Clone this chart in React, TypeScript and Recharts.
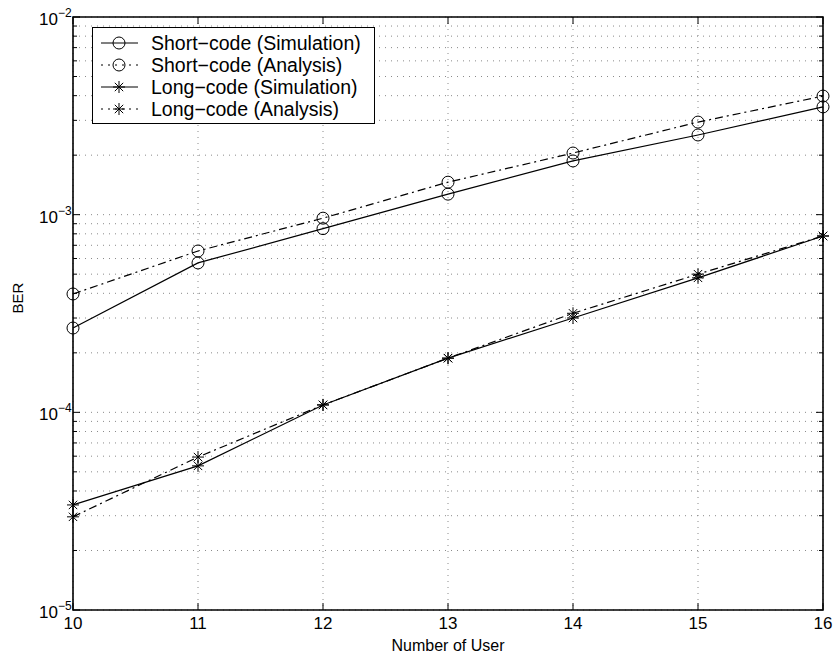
import { LineChart, Line, XAxis, YAxis, CartesianGrid, ReferenceArea, Legend } from 'recharts';

// number of users on the x axis
const users = [10, 11, 12, 13, 14, 15, 16];

// BER
const shortSim = [2.67e-4, 5.7e-4, 8.5e-4, 1.27e-3, 1.87e-3, 2.53e-3, 3.51e-3];
const shortAna = [3.97e-4, 6.55e-4, 9.6e-4, 1.46e-3, 2.05e-3, 2.94e-3, 3.98e-3];
const longSim = [3.4e-5, 5.36e-5, 1.09e-4, 1.88e-4, 3.0e-4, 4.79e-4, 7.8e-4];
const longAna = [2.96e-5, 5.94e-5, 1.09e-4, 1.88e-4, 3.17e-4, 5.0e-4, 7.8e-4];

// log axis ticks: decades plus the 2..9 minor steps
const decades = [1e-5, 1e-4, 1e-3, 1e-2];
const minorSteps = [2, 3, 4, 5, 6, 7, 8, 9];
const yTicks = [
  ...decades,
  ...decades.slice(0, 3).flatMap((d) => minorSteps.map((m) => d * m)),
].sort((a, b) => a - b);

const seriesNames = [
  'Short\u2212code (Simulation)',
  'Short\u2212code (Analysis)',
  'Long\u2212code (Simulation)',
  'Long\u2212code (Analysis)',
];

const data = users.map((u, i) => ({
  user: u,
  shortSim: shortSim[i],
  shortAna: shortAna[i],
  longSim: longSim[i],
  longAna: longAna[i],
}));

const W = 833;
const H = 654;
const PL = 73;
const PR = 823;
const PT = 17;
const PB = 610;
const FONT = 'Liberation Sans';
const DASHDOT = '8 4 2 4';

const Circle = (props: any) => {
  const { cx, cy } = props;
  if (cx == null || cy == null) return null;
  return <circle cx={cx} cy={cy} r={6} fill="none" stroke="#000" strokeWidth={1} />;
};

const Star = (props: any) => {
  const { cx, cy } = props;
  if (cx == null || cy == null) return null;
  const r = 6;
  const d = r * 0.7;
  return (
    <g stroke="#000" strokeWidth={1}>
      <line x1={cx - r} y1={cy} x2={cx + r} y2={cy} />
      <line x1={cx} y1={cy - r} x2={cx} y2={cy + r} />
      <line x1={cx - d} y1={cy - d} x2={cx + d} y2={cy + d} />
      <line x1={cx - d} y1={cy + d} x2={cx + d} y2={cy - d} />
    </g>
  );
};

// inward ticks on both sides, "10" with a superscript exponent at each decade
const YTick = (props: any) => {
  const { y, payload } = props;
  const v = payload.value;
  const exp = Math.round(Math.log10(v));
  const major = Math.abs(v - Math.pow(10, exp)) < v * 1e-6;
  const len = major ? 7 : 4;
  return (
    <g>
      <line x1={PL} x2={PL + len} y1={y} y2={y} stroke="#000" />
      <line x1={PR} x2={PR - len} y1={y} y2={y} stroke="#000" />
      {major && (
        <text x={PL - 15} y={y + 8} textAnchor="end" fontSize={17} fontFamily={FONT} fill="#000">
          10
        </text>
      )}
      {major && (
        <text x={PL - 15} y={y} textAnchor="start" fontSize={12} fontFamily={FONT} fill="#000">
          {'\u2212' + -exp}
        </text>
      )}
    </g>
  );
};

const XTick = (props: any) => {
  const { x, payload } = props;
  return (
    <g>
      <line x1={x} x2={x} y1={PB} y2={PB - 7} stroke="#000" />
      <line x1={x} x2={x} y1={PT} y2={PT + 7} stroke="#000" />
      <text x={x} y={PB + 19} textAnchor="middle" fontSize={17} fontFamily={FONT} fill="#000">
        {payload.value}
      </text>
    </g>
  );
};

const LegendBox = () => {
  const rows = [
    { name: seriesNames[0], dash: false, marker: 'circle' },
    { name: seriesNames[1], dash: true, marker: 'circle' },
    { name: seriesNames[2], dash: false, marker: 'star' },
    { name: seriesNames[3], dash: true, marker: 'star' },
  ];
  return (
    <div
      style={{
        width: 283,
        height: 97,
        boxSizing: 'border-box',
        border: '1px solid #000',
        background: '#fff',
        paddingTop: 4,
        fontFamily: FONT,
        fontSize: 19.5,
      }}
    >
      {rows.map((r) => (
        <div key={r.name} style={{ display: 'flex', alignItems: 'center', height: 22 }}>
          <svg width={58} height={22} style={{ flex: 'none' }}>
            <line x1={8} x2={45} y1={11} y2={11} stroke="#000" strokeDasharray={r.dash ? '2 5' : undefined} />
            {r.marker === 'circle' ? <Circle cx={26} cy={11} /> : <Star cx={26} cy={11} />}
          </svg>
          <span style={{ whiteSpace: 'nowrap', lineHeight: '22px' }}>{r.name}</span>
        </div>
      ))}
    </div>
  );
};

export default function App() {
  return (
    <div style={{ position: 'absolute', left: 0, top: 0, width: W, height: H, background: '#fff' }}>
      <LineChart width={W} height={H} data={data} margin={{ top: PT, right: W - PR, bottom: 0, left: 0 }}>
        <CartesianGrid stroke="#8a8a8a" strokeDasharray="1 5" />
        <XAxis
          dataKey="user"
          type="number"
          domain={[10, 16]}
          ticks={users}
          height={H - PB}
          axisLine={false}
          tickLine={false}
          tick={<XTick />}
          label={{ value: 'Number of User', position: 'insideBottom', offset: 3, fontSize: 16, fontFamily: FONT, fill: '#000' }}
        />
        <YAxis
          scale="log"
          domain={[1e-5, 1e-2]}
          ticks={yTicks}
          allowDataOverflow
          width={PL}
          axisLine={false}
          tickLine={false}
          tick={<YTick />}
          interval={0}
          label={{ value: 'BER', angle: -90, position: 'insideLeft', offset: 18, fontSize: 15, fontFamily: FONT, fill: '#000' }}
        />
        <Line dataKey="shortSim" stroke="#000" strokeWidth={1.2} dot={<Circle />} isAnimationActive={false} />
        <Line dataKey="shortAna" stroke="#000" strokeWidth={1.2} strokeDasharray={DASHDOT} dot={<Circle />} isAnimationActive={false} />
        <Line dataKey="longSim" stroke="#000" strokeWidth={1.2} dot={<Star />} isAnimationActive={false} />
        <Line dataKey="longAna" stroke="#000" strokeWidth={1.2} strokeDasharray={DASHDOT} dot={<Star />} isAnimationActive={false} />
        <ReferenceArea x1={10} x2={16} y1={1e-5} y2={1e-2} fill="none" stroke="#000" strokeWidth={1.6} ifOverflow="visible" />
        <Legend
          layout="horizontal"
          verticalAlign="middle"
          align="center"
          content={<LegendBox />}
          wrapperStyle={{ left: 92, top: 27, width: 283, height: 97 }}
        />
      </LineChart>
    </div>
  );
}
